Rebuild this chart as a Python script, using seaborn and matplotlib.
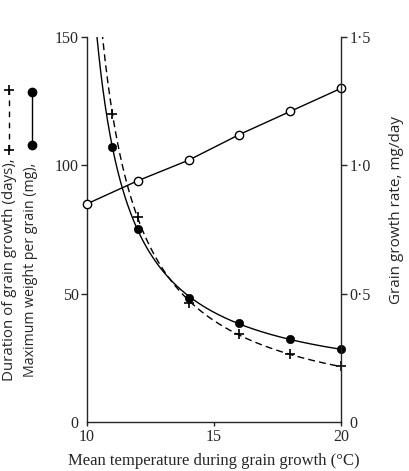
import numpy as np
import pandas as pd
import matplotlib
matplotlib.use("Agg")
import matplotlib.pyplot as plt
from matplotlib.lines import Line2D
import seaborn as sns

# ---- data ----
temp = [10, 12, 14, 16, 18, 20]
growth_rate = [0.85, 0.94, 1.02, 1.12, 1.21, 1.30]          # mg/day (open circles)
temp_w = [11, 12, 14, 16, 18, 20]
max_weight = [107, 75, 48.5, 38.5, 32.2, 28.3]               # mg (filled circles)
duration = [120, 80, 46.5, 34.1, 26.4, 21.7]                 # days (plus signs)
x_ticks = [10, 15, 20]
left_ticks = [0, 50, 100, 150]
right_ticks = [0, 0.5, 1.0, 1.5]
right_tick_labels = ["0", "0·5", "1·0", "1·5"]

sns.set_style("ticks")
plt.rcParams["font.family"] = ["Liberation Serif", "DejaVu Serif"]
plt.rcParams["axes.linewidth"] = 1.0

W, H = 409, 471
fig = plt.figure(figsize=(W / 100, H / 100), dpi=100)
ax = fig.add_axes([87 / W, 1 - 422 / H, (341 - 87) / W, (422 - 37) / H])
ax2 = ax.twinx()


def hyper_fit(x, y):
    x = np.asarray(x, float)
    y = np.asarray(y, float)
    best = None
    for b in np.linspace(7.0, 10.8, 400):
        A = np.column_stack([1 / (x - b), np.ones_like(x)])
        coef, *_ = np.linalg.lstsq(A, y, rcond=None)
        r = np.sum((A @ coef - y) ** 2)
        if best is None or r < best[0]:
            best = (r, b, coef)
    _, b, (a, c) = best
    return lambda t: a / (t - b) + c


xs = np.linspace(10.2, 20, 400)
fw = hyper_fit(temp_w, max_weight)
fd = hyper_fit(temp_w, duration)
curves = pd.DataFrame({"t": xs, "w": fw(xs), "d": fd(xs)})

sns.lineplot(data=curves, x="t", y="w", ax=ax, color="black", lw=1.0)
sns.lineplot(data=curves, x="t", y="d", ax=ax, color="black", lw=1.0,
             linestyle=(0, (5, 3)))
dfw = pd.DataFrame({"t": temp_w, "w": max_weight, "d": duration})
sns.scatterplot(data=dfw, x="t", y="d", ax=ax, marker="+", s=60,
                color="black", linewidth=1.2, zorder=5, clip_on=False)
sns.scatterplot(data=dfw, x="t", y="w", ax=ax, marker="o", s=36,
                color="black", edgecolor="black", zorder=6, clip_on=False)

dfr = pd.DataFrame({"t": temp, "r": growth_rate})
sns.lineplot(data=dfr, x="t", y="r", ax=ax2, color="black", lw=1.0,
             marker="o", markersize=6, markerfacecolor="white",
             markeredgecolor="black", markeredgewidth=1.0, clip_on=False)

ax.set_xlim(10, 20)
ax.set_ylim(0, 150)
ax2.set_ylim(0, 1.5)

ax.set_xticks(x_ticks)
ax.set_xticklabels([str(v) for v in x_ticks])
ax.set_yticks(left_ticks)
ax.set_yticklabels([str(v) for v in left_ticks])
ax2.set_yticks(right_ticks)
ax2.set_yticklabels(right_tick_labels)

ax.tick_params(axis="both", direction="out", length=4, width=1.0,
               labelsize=11.5, pad=2)
ax.tick_params(axis="x", length=3)
ax2.tick_params(axis="y", direction="out", length=4, width=1.0,
                labelsize=11.5, pad=2)
ax.yaxis.get_major_ticks()[0].tick1line.set_visible(False)
ax2.yaxis.get_major_ticks()[0].tick2line.set_visible(False)

for a in (ax, ax2):
    a.spines["top"].set_visible(False)
    a.set_xlabel("")
    a.set_ylabel("")
ax.spines["right"].set_visible(False)
ax2.spines["left"].set_visible(False)
ax2.spines["bottom"].set_visible(False)
ax2.spines["right"].set_visible(True)
ax.patch.set_visible(False)

ax.set_xlabel("Mean temperature during grain growth (°C)", fontsize=12,
              labelpad=6)

sans = ["Open Sans", "DejaVu Sans"]
fig.text(10 / W, 1 - 158 / H, "Duration of grain growth (days),", rotation=90,
         ha="center", va="top", fontsize=10.8, family=sans)
fig.text(31 / W, 1 - 163 / H, "Maximum weight per grain (mg),", rotation=90,
         ha="center", va="top", fontsize=10.2, family=sans)
fig.text(396 / W, 1 - 210 / H, "Grain growth rate, mg/day", rotation=90,
         ha="center", va="center", fontsize=11, family=sans)

# key symbols beside the axis titles
fig.add_artist(Line2D([9 / W, 9 / W], [1 - 150 / H, 1 - 90 / H],
                      color="black", lw=1.0, linestyle=(0, (4, 4)),
                      marker="+", markersize=7, markeredgewidth=1.2))
fig.add_artist(Line2D([32 / W, 32 / W], [1 - 145 / H, 1 - 92 / H],
                      color="black", lw=1.0, marker="o", markersize=6))

fig.savefig("out.png", dpi=100)
